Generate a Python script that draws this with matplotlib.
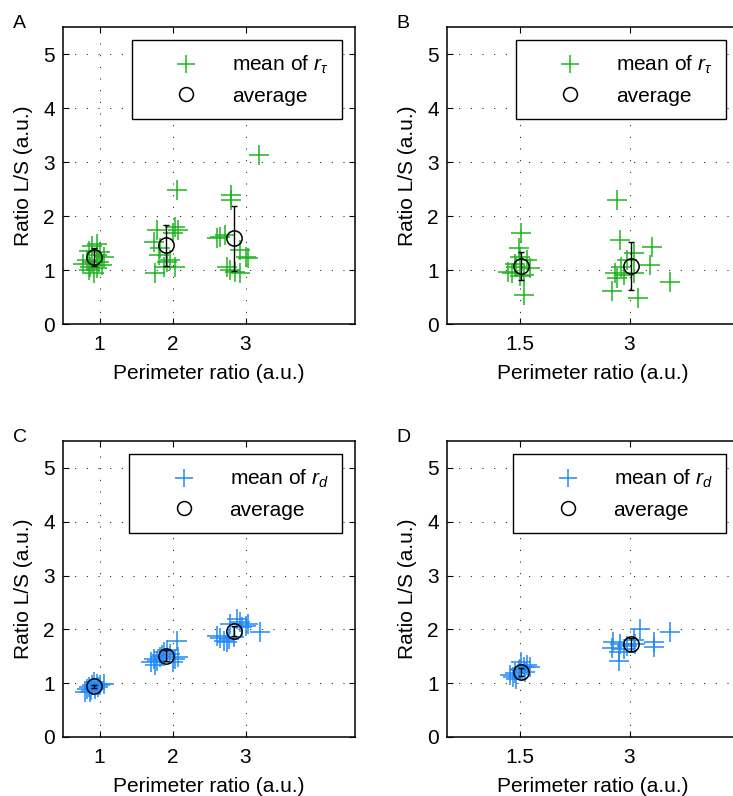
import matplotlib
matplotlib.use("Agg")
import matplotlib.pyplot as plt
from matplotlib.lines import Line2D

plt.rcParams['font.family'] = ['Liberation Sans', 'DejaVu Sans']
plt.rcParams['mathtext.fontset'] = 'custom'
plt.rcParams['mathtext.it'] = 'Liberation Sans:italic'
plt.rcParams['mathtext.rm'] = 'Liberation Sans'

# ---------------- data ----------------
# Panel A (mean of r_tau, perimeter ratios 1, 2, 3)
a_x = [0.90, 0.97, 0.86, 1.01, 0.96, 1.06, 0.83, 0.90, 0.99, 0.78, 0.87, 0.96, 1.03, 0.92, 0.85,
       1.79, 2.04, 2.06, 2.01, 1.74, 1.83, 1.81, 1.92, 2.04, 1.76, 1.88, 1.97, 2.08,
       3.18, 2.80, 2.80, 2.65, 2.72, 2.61, 2.93, 3.00, 3.04, 2.79, 2.86, 2.93, 2.74]
a_y = [1.44, 1.48, 1.36, 1.34, 1.28, 1.25, 1.19, 1.15, 1.14, 1.12, 1.06, 1.03, 1.09, 0.95, 1.00,
       1.74, 1.80, 2.48, 1.68, 1.52, 1.40, 1.28, 1.15, 1.06, 0.94, 1.06, 1.19, 1.74,
       3.13, 2.39, 2.30, 1.62, 1.65, 1.59, 1.37, 1.25, 1.22, 1.00, 0.97, 0.94, 1.06]
a_avg_x = [0.93, 1.91, 2.84]
a_avg_y = [1.24, 1.46, 1.59]
a_err = [0.17, 0.38, 0.60]

# Panel B (mean of r_tau, perimeter ratios 1.5, 3)
b_x = [1.52, 1.50, 1.59, 1.45, 1.39, 1.55, 1.43, 1.48, 1.55, 1.64, 1.50, 1.34,
       2.83, 2.87, 3.31, 3.28, 3.56, 3.12, 2.76, 2.80, 2.89, 2.96, 3.06, 2.83, 2.92, 3.06]
b_y = [1.68, 1.25, 1.19, 1.06, 0.94, 0.91, 1.12, 1.40, 0.54, 1.03, 0.88, 0.97,
       2.30, 1.56, 1.42, 1.09, 0.77, 0.49, 0.62, 0.94, 1.06, 1.19, 1.31, 0.85, 0.91, 0.94]
b_avg_x = [1.51, 3.02]
b_avg_y = [1.07, 1.07]
b_err = [0.26, 0.44]

# Panel C (mean of r_d, perimeter ratios 1, 2, 3)
c_x = [0.83, 0.90, 0.97, 1.01, 0.80, 0.87, 0.94, 1.06, 0.85, 0.92, 0.98, 0.88,
       2.06, 1.79, 1.74, 1.76, 1.83, 1.97, 2.04, 2.08, 1.88, 1.92, 2.01, 1.70, 1.86,
       3.20, 2.65, 2.70, 2.77, 2.84, 2.79, 2.93, 3.00, 3.04, 2.88, 2.74, 2.61, 2.95]
c_y = [0.90, 0.96, 0.98, 0.96, 0.84, 0.84, 0.90, 0.98, 0.93, 1.02, 0.93, 0.88,
       1.79, 1.42, 1.45, 1.33, 1.48, 1.54, 1.45, 1.48, 1.58, 1.61, 1.39, 1.39, 1.52,
       1.95, 1.84, 1.79, 1.82, 1.85, 2.10, 2.13, 2.07, 2.10, 2.20, 1.76, 1.87, 2.04]
c_avg_x = [0.92, 1.91, 2.84]
c_avg_y = [0.94, 1.51, 1.97]
c_err = [0.03, 0.10, 0.10]

# Panel D (mean of r_d, perimeter ratios 1.5, 3)
d_x = [1.36, 1.43, 1.50, 1.55, 1.59, 1.64, 1.45, 1.52, 1.41, 1.57, 1.48,
       3.15, 3.56, 3.33, 3.33, 2.78, 2.76, 2.85, 2.85, 2.92, 2.97, 2.87, 3.06, 3.08]
d_y = [1.15, 1.18, 1.27, 1.30, 1.33, 1.30, 1.08, 1.39, 1.11, 1.21, 1.24,
       2.01, 1.95, 1.76, 1.67, 1.76, 1.66, 1.58, 1.42, 1.64, 1.70, 1.73, 1.80, 1.73]
d_avg_x = [1.51, 3.02]
d_avg_y = [1.21, 1.72]
d_err = [0.08, 0.12]

xticks_ac = [1, 2, 3]
xticks_bd = [1.5, 3]
yticks = [0, 1, 2, 3, 4, 5]

green = '#1fb41f'
blue = '#2289f5'

W, H = 733, 796
fig = plt.figure(figsize=(W / 100, H / 100), dpi=100)

def px_axes(left, top, right, bottom):
    return fig.add_axes([left / W, 1 - bottom / H, (right - left) / W, (bottom - top) / H])

panels = [
    (px_axes(63, 27, 355, 324), a_x, a_y, a_avg_x, a_avg_y, a_err, green, r'mean of $r_\tau$', xticks_ac, 'A', (13, 28)),
    (px_axes(447, 27, 739, 324), b_x, b_y, b_avg_x, b_avg_y, b_err, green, r'mean of $r_\tau$', xticks_bd, 'B', (396, 28)),
    (px_axes(63, 441, 355, 737), c_x, c_y, c_avg_x, c_avg_y, c_err, blue, r'mean of $r_d$', xticks_ac, 'C', (13, 442)),
    (px_axes(447, 441, 739, 737), d_x, d_y, d_avg_x, d_avg_y, d_err, blue, r'mean of $r_d$', xticks_bd, 'D', (396, 442)),
]

for ax, xs, ys, mx, my, err, col, lab, xt, letter, lpos in panels:
    ax.plot(xs, ys, linestyle='none', marker='+', color=col, markersize=14, markeredgewidth=1.1, zorder=3)
    ax.errorbar(mx, my, yerr=err, fmt='none', ecolor='black', elinewidth=1.0, capsize=2, capthick=1.0, zorder=4)
    ax.plot(mx, my, linestyle='none', marker='o', markerfacecolor='none', markeredgecolor='black',
            markersize=11, markeredgewidth=1.1, zorder=5)
    ax.set_xlim(0.5, 4.5)
    ax.set_ylim(0, 5.5)
    ax.set_xticks(xt)
    ax.set_xticklabels([('%g' % v) for v in xt])
    ax.set_yticks(yticks)
    ax.tick_params(direction='in', top=True, right=True, length=4, width=0.8, labelsize=15)
    ax.tick_params(axis='x', pad=8)
    ax.tick_params(axis='y', pad=6)
    ax.grid(True, color='black', linestyle=(0, (1, 11)), linewidth=0.7)
    ax.set_axisbelow(True)
    for s in ax.spines.values():
        s.set_linewidth(1.1)
    ax.set_xlabel('Perimeter ratio (a.u.)', fontsize=15, labelpad=7)
    ax.set_ylabel('Ratio L/S (a.u.)', fontsize=15)
    ax.yaxis.set_label_coords(-0.103, 0.5)
    handles = [
        Line2D([], [], linestyle='none', marker='+', color=col, markersize=13, markeredgewidth=1.1),
        Line2D([], [], linestyle='none', marker='o', markerfacecolor='none', markeredgecolor='black',
               markersize=10, markeredgewidth=1.1),
    ]
    leg = ax.legend(handles, [lab, 'average'], loc='upper right', bbox_to_anchor=(0.955, 0.955),
                    borderaxespad=0, fontsize=15, handlelength=3.9, handletextpad=0.26,
                    labelspacing=0.5, borderpad=0.65, fancybox=False, framealpha=1)
    leg.get_frame().set_edgecolor('black')
    leg.get_frame().set_linewidth(1.0)
    fig.text(lpos[0] / W, 1 - lpos[1] / H, letter, fontsize=14, ha='left', va='baseline')

fig.savefig('out.png', dpi=100)
